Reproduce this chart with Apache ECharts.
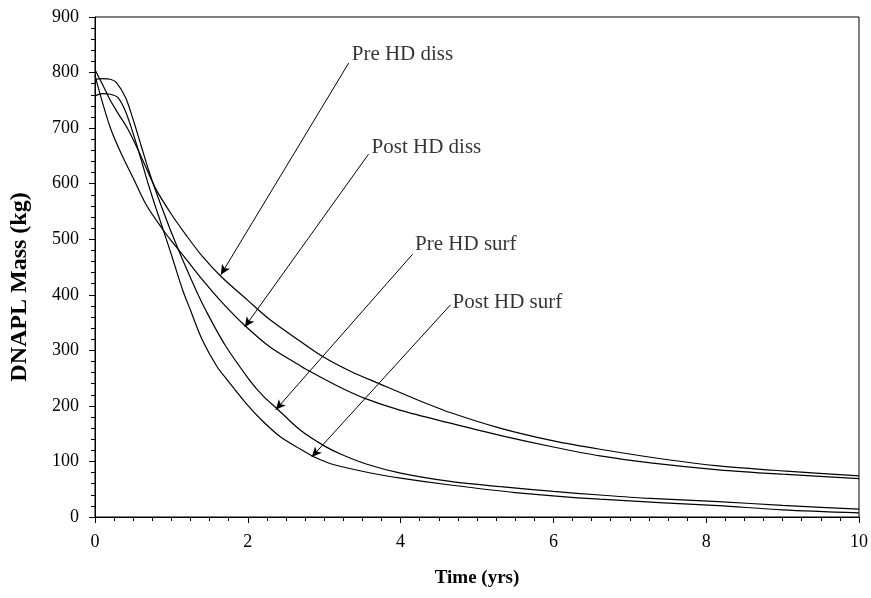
<!DOCTYPE html>
<html>
<head>
<meta charset="utf-8">
<script src="https://cdn.jsdelivr.net/npm/echarts@6/dist/echarts.min.js"></script>
<style>
html,body{margin:0;padding:0;background:#fff;}
#chart{width:871px;height:598px;}
</style>
</head>
<body>
<div id="chart"></div>
<script>
// Time (yrs), DNAPL mass (kg)
var preDissT  = [0, 0.1, 0.2, 0.3, 0.435, 0.6, 0.79, 1.0, 1.2, 1.4, 1.65, 2.0, 2.3, 2.69, 2.98, 3.35, 3.72, 4.2, 4.65, 5.3, 6.0, 6.61, 7.5, 8.16, 9.0, 10.0];
var preDissM  = [805, 778, 750, 727, 697, 650, 592, 545, 506, 470, 433, 390, 354, 316, 289, 262, 240, 212, 188, 160, 137, 122, 103, 92, 83, 74];

var postDissT = [0, 0.1, 0.21, 0.35, 0.5, 0.67, 0.885, 1.0, 1.2, 1.4, 1.65, 1.95, 2.3, 2.69, 2.8, 3.2, 3.54, 4.0, 4.65, 5.3, 6.0, 6.61, 7.3, 8.16, 9.0, 10.0];
var postDissM = [795, 745, 697, 652, 610, 562, 518, 497, 463, 428, 388, 346, 305, 272, 263, 234, 213, 192, 169, 147, 126, 110, 97, 85, 77, 69];

var preSurfT  = [0, 0.1, 0.2, 0.28, 0.4, 0.5, 0.6, 0.7, 0.8, 0.9, 1.0, 1.15, 1.32, 1.45, 1.7, 2.02, 2.2, 2.39, 2.69, 3.0, 3.22, 3.56, 4.0, 4.65, 5.31, 6.0, 6.61, 7.2, 8.16, 9.0, 10.0];
var preSurfM  = [788, 789, 788, 782, 755, 715, 670, 625, 585, 548, 512, 462, 409, 372, 310, 247, 218, 194, 156, 128, 113, 95, 79, 64, 54.5, 46, 39.6, 34, 27.6, 21, 14];

var postSurfT = [0, 0.1, 0.2, 0.3, 0.4, 0.5, 0.6, 0.7, 0.8, 0.9, 1.0, 1.146, 1.25, 1.4, 1.6, 1.73, 2.0, 2.2, 2.43, 2.69, 2.87, 3.13, 3.56, 4.0, 4.65, 5.5, 6.61, 8.16, 9.0, 10.0];
var postSurfM = [758, 762, 761, 755, 730, 690, 645, 598, 555, 514, 472, 409, 372, 320, 270, 247, 201, 172, 144, 122, 108, 94, 80.5, 70, 57.6, 44, 32, 20.4, 13, 7.5];

// annotations: label, label anchor (t, kg), arrow start (t, kg), arrow tip (t, kg)
var annoLabels = ['Pre HD diss', 'Post HD diss', 'Pre HD surf', 'Post HD surf'];
var annoTextT  = [3.36, 3.62, 4.19, 4.68];
var annoTextM  = [832, 666, 491, 387];
var annoFromT  = [3.32, 3.58, 4.157, 4.654];
var annoFromM  = [817, 653, 473, 382];
var annoToT    = [1.647, 1.96, 2.366, 2.837];
var annoToM    = [436, 342, 193, 108];

var xTicks = [0, 2, 4, 6, 8, 10];
var yTicks = [0, 100, 200, 300, 400, 500, 600, 700, 800, 900];

function pairs(t, m){ return t.map(function(v,i){ return [v, m[i]]; }); }

var font = 'Liberation Serif, Times New Roman, serif';
var chart = echarts.init(document.getElementById('chart'), null, {renderer:'canvas'});

function curve(name, t, m){
  return {
    name: name, type: 'line', data: pairs(t, m), showSymbol: false, symbol: 'none',
    smooth: 0.3,
    lineStyle: {color: '#000', width: 1.2}, z: 3, animation: false
  };
}

var arrowData = annoLabels.map(function(l, i){
  return [{coord: [annoFromT[i], annoFromM[i]]}, {coord: [annoToT[i], annoToM[i]]}];
});
var labelData = annoLabels.map(function(l, i){
  return {value: [annoTextT[i], annoTextM[i]], name: l};
});

var option = {
  backgroundColor: '#fff',
  animation: false,
  grid: {left: 94, right: 12, top: 17, bottom: 81, show: true, borderColor: '#000', borderWidth: 1},
  xAxis: {
    type: 'value', min: xTicks[0], max: xTicks[xTicks.length-1], interval: 2,
    name: 'Time (yrs)', nameLocation: 'middle', nameGap: 52,
    nameTextStyle: {fontFamily: font, fontSize: 19, fontWeight: 'bold', color: '#000'},
    axisLine: {lineStyle: {color: '#000', width: 1}},
    axisTick: {show: true, length: 6, inside: false, lineStyle: {color: '#000'}},
    minorTick: {show: true, splitNumber: 8, length: 4, lineStyle: {color: '#000'}},
    axisLabel: {fontFamily: font, fontSize: 18, color: '#000', margin: 16},
    splitLine: {show: false}
  },
  yAxis: {
    type: 'value', min: yTicks[0], max: yTicks[yTicks.length-1], interval: 100,
    name: 'DNAPL Mass (kg)', nameLocation: 'middle', nameGap: 63,
    nameTextStyle: {fontFamily: font, fontSize: 24, fontWeight: 'bold', color: '#000', padding: [0, 40, 0, 0]},
    axisLine: {show: true, lineStyle: {color: '#000', width: 1}},
    axisTick: {show: true, length: 6, lineStyle: {color: '#000'}},
    minorTick: {show: true, splitNumber: 5, length: 4, lineStyle: {color: '#000'}},
    axisLabel: {fontFamily: font, fontSize: 18, color: '#000', margin: 16},
    splitLine: {show: false}
  },
  series: [
    curve('Pre HD diss', preDissT, preDissM),
    curve('Post HD diss', postDissT, postDissM),
    curve('Pre HD surf', preSurfT, preSurfM),
    curve('Post HD surf', postSurfT, postSurfM),
    {
      type: 'scatter', data: labelData, symbolSize: 0, silent: true, z: 5,
      label: {show: true, position: 'right', distance: 0, formatter: function(p){ return p.name; },
              fontFamily: font, fontSize: 21, color: '#000'},
      markLine: {
        silent: true, symbol: ['none', 'arrow'], symbolSize: [7, 10],
        lineStyle: {color: '#000', width: 1, type: 'solid'},
        label: {show: false},
        data: arrowData, animation: false
      }
    }
  ]
};
chart.setOption(option);
</script>
</body>
</html>
